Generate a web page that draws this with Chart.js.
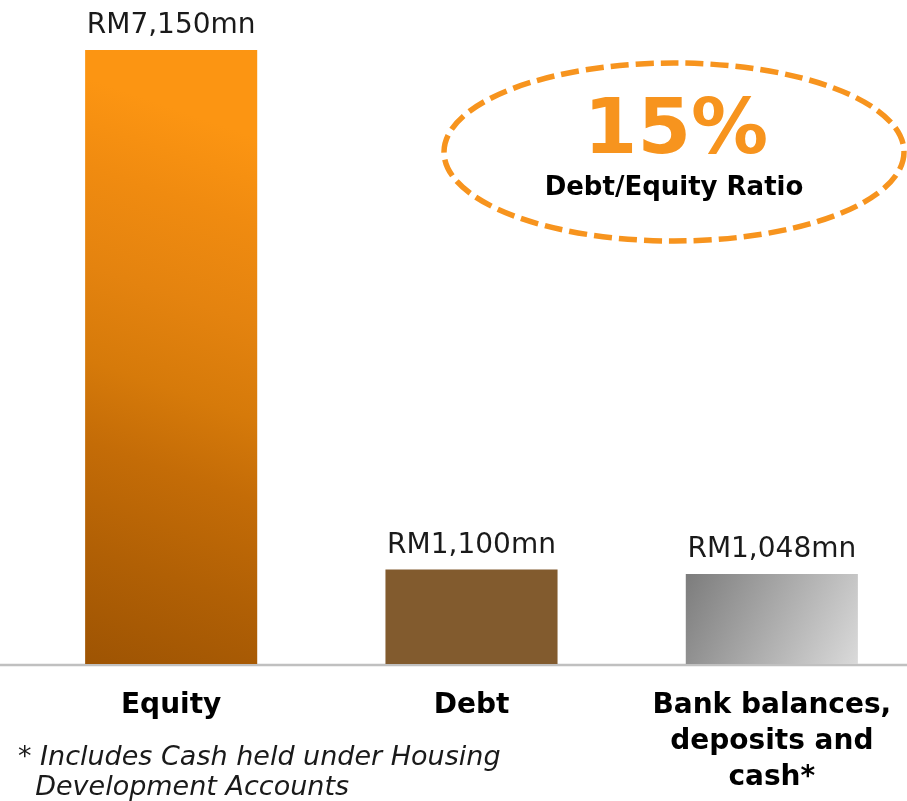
<!DOCTYPE html>
<html>
<head>
<meta charset="utf-8">
<script src="https://cdn.jsdelivr.net/npm/chart.js@4.4.0/dist/chart.umd.min.js"></script>
<style>
  html, body { margin: 0; padding: 0; background: #fff; overflow: hidden; }
  #wrap { position: relative; width: 922px; height: 801px; }
</style>
</head>
<body>
<div id="wrap"><canvas id="chart"></canvas></div>
<script>
  const categories = [
    ['Equity'],
    ['Debt'],
    ['Bank balances,', 'deposits and', 'cash*']
  ]
  const values = [7150, 1100, 1048]
  const valueLabels = ['RM7,150mn', 'RM1,100mn', 'RM1,048mn']
  const ratioText = '15%'
  const ratioCaption = 'Debt/Equity Ratio'
  const footnote = ['* Includes Cash held under Housing', '  Development Accounts']

  const FONT = '"DejaVu Sans", Verdana, sans-serif'
  const ORANGE = '#f7941e'
  const BAR_PCT = 0.573

  function barFill(ctx) {
    const chart = ctx.chart
    const area = chart.chartArea
    const xs = chart.scales.x, ys = chart.scales.y
    const i = ctx.dataIndex
    if (i === 1) return '#825b2e'
    const fallback = i === 0 ? '#e07d0c' : '#a8a8a8'
    if (!area || !xs || !ys) return fallback
    const cx = xs.getPixelForValue(i)
    const top = ys.getPixelForValue(values[i])
    const half = (area.width / categories.length) * BAR_PCT / 2
    const left = cx - half, right = cx + half
    if (![cx, top, half, area.bottom].every(Number.isFinite)) return fallback
    const c = chart.ctx
    if (i === 0) {
      // slightly tilted gradient: bottom-left darkest, top bright
      const h = area.bottom - top
      const g = c.createLinearGradient(left, area.bottom, left + h * 0.3, area.bottom - h * 0.85)
      g.addColorStop(0, '#9e5403')
      g.addColorStop(0.2, '#b16005')
      g.addColorStop(0.38, '#c46c07')
      g.addColorStop(0.52, '#d67a0a')
      g.addColorStop(0.68, '#e4830f')
      g.addColorStop(0.85, '#f08b10')
      g.addColorStop(1, '#fc9512')
      return g
    }
    const g = c.createLinearGradient(left, top, right, area.bottom)
    g.addColorStop(0, '#7c7c7c')
    g.addColorStop(1, '#dadada')
    return g
  }

  const decorations = {
    id: 'decorations',
    beforeDatasetsDraw(chart) {
      const { ctx, chartArea } = chart
      // baseline across the full width
      ctx.save()
      ctx.strokeStyle = '#c0c0c0'
      ctx.lineWidth = 2.5
      ctx.beginPath()
      ctx.moveTo(0, chartArea.bottom + 1)
      ctx.lineTo(chart.width, chartArea.bottom + 1)
      ctx.stroke()
      ctx.restore()
    },
    afterDatasetsDraw(chart) {
      const { ctx } = chart
      const meta = chart.getDatasetMeta(0)
      ctx.save()
      ctx.fillStyle = '#1a1a1a'
      ctx.font = '28px ' + FONT
      ctx.textAlign = 'center'
      ctx.textBaseline = 'alphabetic'
      meta.data.forEach((bar, i) => {
        ctx.fillText(valueLabels[i], bar.x, bar.y - 17)
      })

      // dashed ellipse callout
      ctx.strokeStyle = ORANGE
      ctx.lineWidth = 5.5
      ctx.setLineDash([18, 7])
      ctx.beginPath()
      ctx.ellipse(674, 152, 230, 89, 0, 0, Math.PI * 2)
      ctx.stroke()
      ctx.setLineDash([])

      ctx.fillStyle = ORANGE
      ctx.font = 'bold 77px ' + FONT
      ctx.fillText(ratioText, 676, 153)
      ctx.fillStyle = '#000'
      ctx.font = 'bold 26px ' + FONT
      ctx.fillText(ratioCaption, 674, 195)

      // footnote
      ctx.fillStyle = '#1a1a1a'
      ctx.font = 'italic 27px ' + FONT
      ctx.textAlign = 'left'
      ctx.fillText(footnote[0], 18, 765)
      ctx.fillText(footnote[1], 18, 795)
      ctx.restore()
    }
  }

  new Chart(document.getElementById('chart'), {
    type: 'bar',
    data: {
      labels: categories,
      datasets: [{
        data: values,
        backgroundColor: barFill,
        borderWidth: 0,
        barPercentage: BAR_PCT,
        categoryPercentage: 1
      }]
    },
    options: {
      responsive: true,
      maintainAspectRatio: false,
      animation: false,
      layout: { padding: { top: 50, left: 21, right: 0, bottom: 0 } },
      plugins: {
        legend: { display: false },
        tooltip: { enabled: false }
      },
      scales: {
        x: {
          type: 'category',
          grid: { display: false, drawTicks: false },
          border: { display: false },
          afterFit(scale) { scale.height = 137 },
          ticks: {
            color: '#000',
            padding: 24,
            maxRotation: 0,
            autoSkip: false,
            font: { family: FONT, size: 28, weight: 'bold', lineHeight: '36px' }
          }
        },
        y: {
          display: false,
          min: 0,
          max: 7150
        }
      }
    },
    plugins: [decorations]
  })
</script>
</body>
</html>
